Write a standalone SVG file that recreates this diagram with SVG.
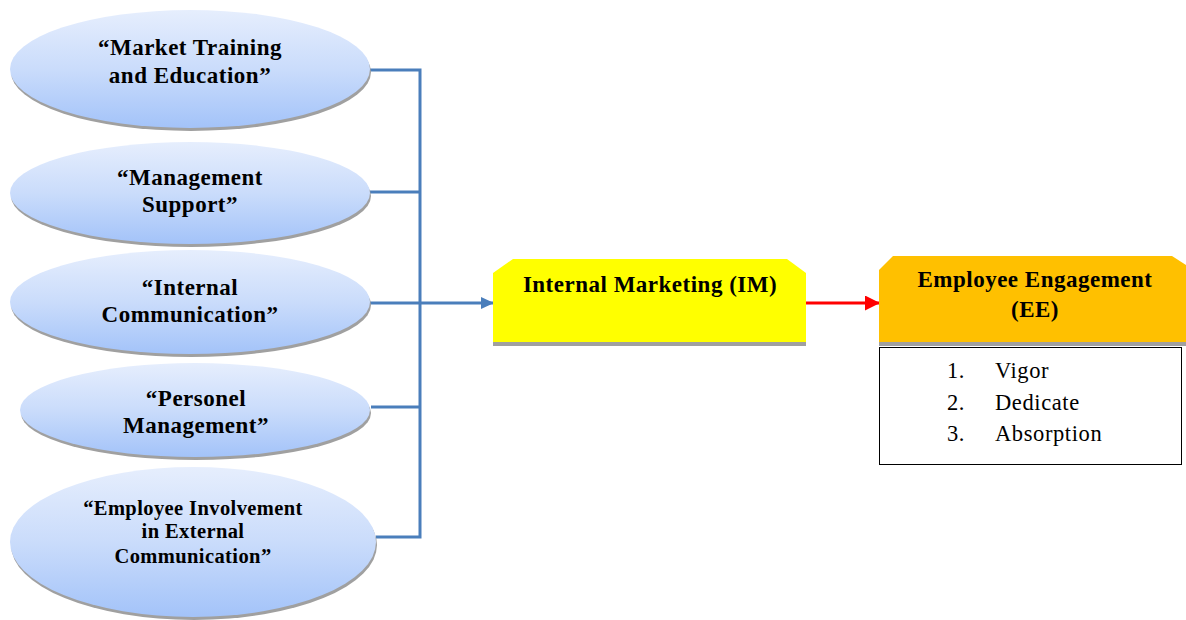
<svg xmlns="http://www.w3.org/2000/svg" width="1186" height="620" viewBox="0 0 1186 620">
  <style>
    .lbl { font-family: "Liberation Serif", "Times New Roman", serif; font-weight: bold; fill: #000; text-anchor: middle; font-size: 23px; letter-spacing: 0.5px; }
    .small { font-size: 20.5px; letter-spacing: 0.4px; }
    .item { font-family: "Liberation Serif", "Times New Roman", serif; font-size: 22.5px; letter-spacing: 0.6px; fill: #000; }
    .shadow { fill: #a0a0a0; }
    .oval { fill: url(#ovalFill); }
    .link { fill: none; stroke: #4a7ebb; stroke-width: 3; }
  </style>
  <defs>
    <linearGradient id="ovalFill" x1="0" y1="0" x2="0" y2="1">
      <stop offset="0" stop-color="#e6eefd"/>
      <stop offset="0.5" stop-color="#cadcfb"/>
      <stop offset="1" stop-color="#a3c3f9"/>
    </linearGradient>
    <marker id="blueHead" markerWidth="13" markerHeight="12" refX="12" refY="6" orient="auto" markerUnits="userSpaceOnUse">
      <path d="M0,0 L13,6 L0,12 Z" fill="#4a7ebb"/>
    </marker>
    <marker id="redHead" markerWidth="15" markerHeight="15" refX="14" refY="7.5" orient="auto" markerUnits="userSpaceOnUse">
      <path d="M0,0 L15,7.5 L0,15 Z" fill="#ff0000"/>
    </marker>
  </defs>

  <rect width="1186" height="620" fill="#fff"/>

  <!-- connectors -->
  <g id="connectors">
    <path class="link" d="M370,70 H420 V537 H376"/>
    <path class="link" d="M370,192 H420"/>
    <path class="link" d="M370,303 H420"/>
    <path class="link" d="M371,407 H420"/>
    <path class="link" d="M420,303 H493" marker-end="url(#blueHead)"/>
    <path d="M806,303 H879" fill="none" stroke="#ff0000" stroke-width="3" marker-end="url(#redHead)"/>
  </g>

  <!-- input ovals -->
  <g id="market-training">
    <ellipse class="shadow" cx="191" cy="72" rx="180" ry="59"/>
    <ellipse class="oval" cx="190" cy="69" rx="180" ry="59"/>
    <text class="lbl" x="190" y="55">“Market Training</text>
    <text class="lbl" x="190" y="83">and Education”</text>
  </g>
  <g id="management-support">
    <ellipse class="shadow" cx="191" cy="196" rx="180" ry="51"/>
    <ellipse class="oval" cx="190" cy="193" rx="180" ry="51"/>
    <text class="lbl" x="190" y="185">“Management</text>
    <text class="lbl" x="190" y="212">Support”</text>
  </g>
  <g id="internal-communication">
    <ellipse class="shadow" cx="191" cy="305" rx="180" ry="52"/>
    <ellipse class="oval" cx="190" cy="302" rx="180" ry="52"/>
    <text class="lbl" x="190" y="295">“Internal</text>
    <text class="lbl" x="190" y="322">Communication”</text>
  </g>
  <g id="personel-management">
    <ellipse class="shadow" cx="196" cy="413" rx="175" ry="47"/>
    <ellipse class="oval" cx="195" cy="410" rx="175" ry="47"/>
    <text class="lbl" x="196" y="406">“Personel</text>
    <text class="lbl" x="196" y="433">Management”</text>
  </g>
  <g id="employee-involvement">
    <ellipse class="shadow" cx="194" cy="545" rx="183" ry="75"/>
    <ellipse class="oval" cx="193" cy="542" rx="183" ry="75"/>
    <text class="lbl small" x="193" y="515">“Employee Involvement</text>
    <text class="lbl small" x="193" y="538">in External</text>
    <text class="lbl small" x="193" y="563">Communication”</text>
  </g>

  <!-- internal marketing -->
  <g id="internal-marketing">
    <rect x="493" y="300" width="313" height="46" fill="#a0a0a0"/>
    <path d="M513,259 H787 L806,273 V342 H493 V273 Z" fill="#ffff00"/>
    <text class="lbl" x="650" y="292">Internal Marketing (IM)</text>
  </g>

  <!-- employee engagement -->
  <g id="employee-engagement">
    <rect x="879" y="300" width="307" height="46" fill="#a0a0a0"/>
    <path d="M893,256 H1172 L1186,265 V342 H879 V270 Z" fill="#ffc000"/>
    <text class="lbl" x="1035" y="287">Employee Engagement</text>
    <text class="lbl" x="1035" y="317">(EE)</text>
    <rect x="879.5" y="347.5" width="302" height="117" fill="#fff" stroke="#000" stroke-width="1"/>
    <text class="item" x="947" y="378">1.</text>
    <text class="item" x="995" y="378">Vigor</text>
    <text class="item" x="947" y="410">2.</text>
    <text class="item" x="995" y="410">Dedicate</text>
    <text class="item" x="947" y="441">3.</text>
    <text class="item" x="995" y="441">Absorption</text>
  </g>
</svg>
